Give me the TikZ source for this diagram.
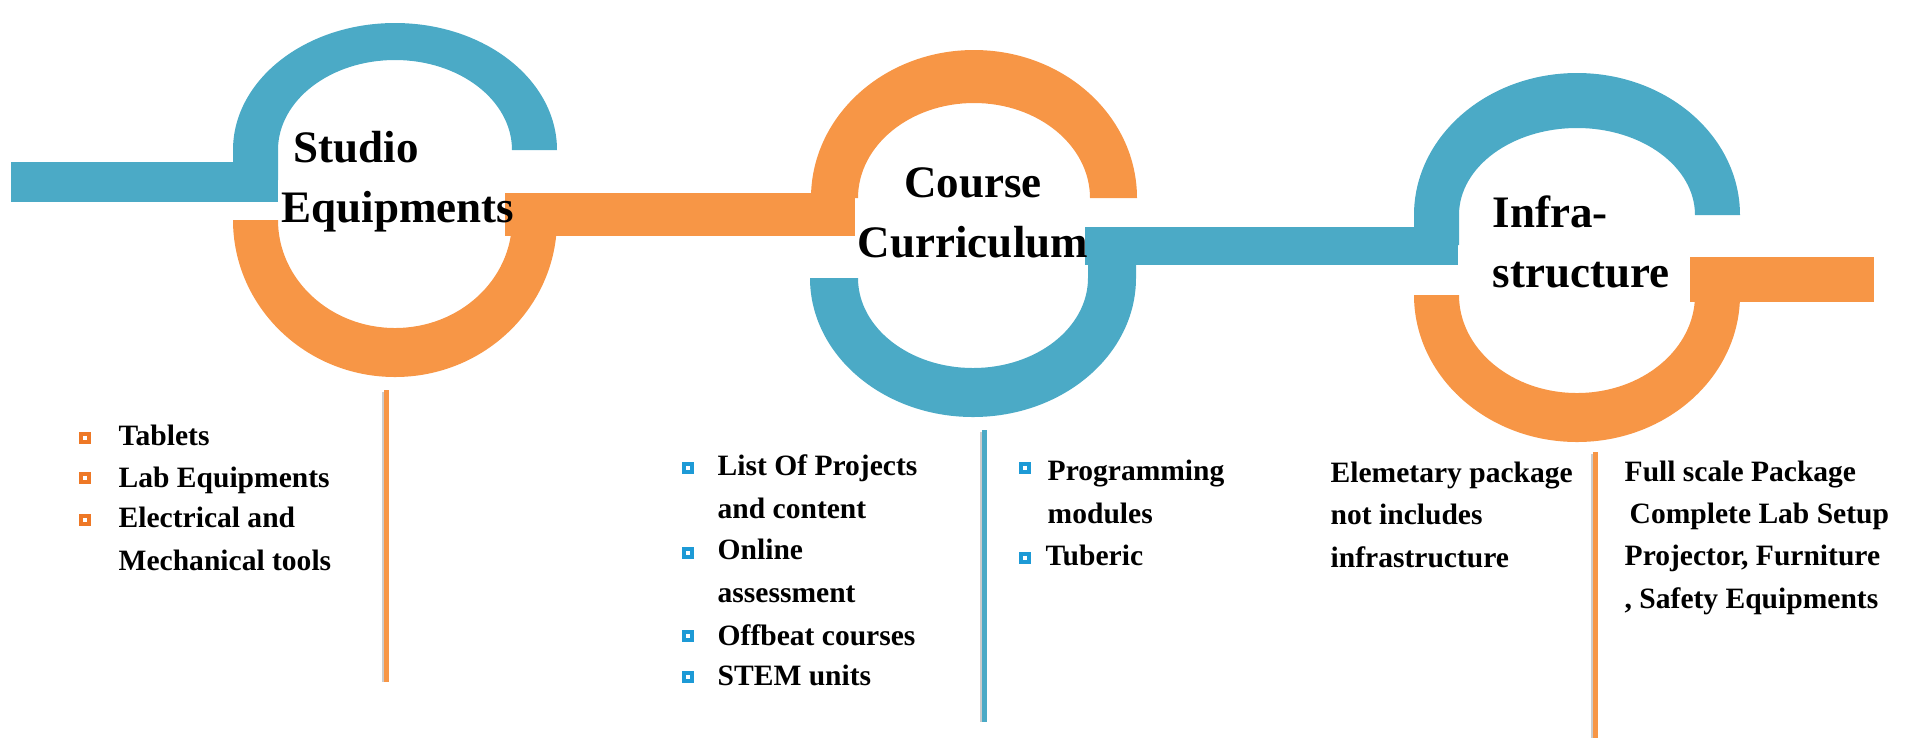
\documentclass[tikz,border=0pt]{standalone}
\usepackage{fontspec}
\setmainfont{Liberation Serif}
\usepackage{xcolor}

\definecolor{ringblue}{HTML}{4BAAC6}
\definecolor{ringorange}{HTML}{F79646}
\definecolor{dotorange}{HTML}{EE7826}
\definecolor{dotblue}{HTML}{1D9AD6}

\tikzset{
  headtext/.style={font=\fontsize{12.8}{16.8}\selectfont\bfseries, inner sep=0pt},
  listtext/.style={font=\fontsize{8.4}{11.95}\selectfont\bfseries, inner sep=0pt, align=left, anchor=base west},
  sqbullet/.style={draw=#1, fill=white, line width=0.04cm, minimum size=0.085cm, inner sep=0pt},
  divider/.style={line width=0.05cm, draw=#1}
}

\begin{document}
\begin{tikzpicture}[x=0.01cm, y=-0.01cm]

    \useasboundingbox (0,0) rectangle (1908,744);

    % Draw the first ring (blue on top, orange below) with the bar coming in from the left
    \fill[ringblue] (11,162) rectangle (278,202);
    \fill[ringblue] (233,180) -- (233,150) arc[start angle=180, end angle=360, x radius=162, y radius=127]
        -- (512,150) arc[start angle=0, end angle=-180, x radius=117, y radius=90] -- (278,180) -- cycle;
    \fill[ringorange] (233,220) arc[start angle=180, end angle=0, x radius=162, y radius=157]
        -- (512,220) arc[start angle=0, end angle=180, x radius=117, y radius=108] -- cycle;

    % Orange bar between the first and the second ring
    \fill[ringorange] (505,193) rectangle (855,236);

    % Draw the second ring (orange on top, blue below)
    \fill[ringorange] (811,198) arc[start angle=180, end angle=360, x radius=163, y radius=148]
        -- (1090,198) arc[start angle=0, end angle=-180, x radius=116, y radius=95] -- cycle;
    \fill[ringblue] (810,278) arc[start angle=180, end angle=0, x radius=163, y radius=139]
        -- (1136,250) -- (1088,250) -- (1088,278) arc[start angle=0, end angle=180, x radius=115, y radius=90] -- cycle;

    % Blue bar between the second and the third ring
    \fill[ringblue] (1085,227) rectangle (1458,265);

    % Draw the third ring (blue on top, orange below) with the bar going out to the right
    \fill[ringblue] (1414,245) -- (1414,215) arc[start angle=180, end angle=360, x radius=163, y radius=142]
        -- (1695,215) arc[start angle=0, end angle=-180, x radius=118, y radius=87] -- (1459,245) -- cycle;
    \fill[ringorange] (1414,295) arc[start angle=180, end angle=0, x radius=163, y radius=147]
        -- (1695,295) arc[start angle=0, end angle=180, x radius=118, y radius=98] -- cycle;
    \fill[ringorange] (1690,257) rectangle (1874,302);

    % Titles inside the rings (placed at the baseline of their last line)
    \node[headtext, align=left, anchor=base west] (studio) at (281,222) {\hspace*{0.12cm}Studio\\Equipments};
    \node[headtext, align=center, anchor=base] (course) at (973,257) {Course\\Curriculum};
    \node[headtext, align=left, anchor=base west] (infra) at (1492,287) {Infra-\\structure};

    % Divider lines below the rings
    \draw[line width=0.03cm, black!20] (383,392) -- (383,682);
    \draw[divider=ringorange] (386,390) -- (386,682);
    \draw[line width=0.03cm, black!20] (981,432) -- (981,722);
    \draw[divider=ringblue] (984,430) -- (984,722);
    \draw[line width=0.03cm, black!20] (1592,454) -- (1592,738);
    \draw[divider=ringorange] (1595,452) -- (1595,738);

    % Studio equipment list
    \node[sqbullet=dotorange] (tabdot) at (85,438) {};
    \node[listtext] (tab) at (118,445) {Tablets};
    \node[sqbullet=dotorange] (labdot) at (85,478) {};
    \node[listtext] (lab) at (118,487) {Lab Equipments};
    \node[sqbullet=dotorange] (tooldot) at (85,520) {};
    \node[listtext] (tool) at (118,570) {Electrical and\\Mechanical tools};

    % Course curriculum list, first column
    \node[sqbullet=dotblue] (projdot) at (688,468) {};
    \node[listtext] (proj) at (717,518) {List Of Projects\\and content};
    \node[sqbullet=dotblue] (onldot) at (688,553) {};
    \node[listtext] (onl) at (717,602) {Online\\assessment};
    \node[sqbullet=dotblue] (offdot) at (688,636) {};
    \node[listtext] (off) at (717,645) {Offbeat courses};
    \node[sqbullet=dotblue] (stemdot) at (688,677) {};
    \node[listtext] (stem) at (717,685) {STEM units};

    % Course curriculum list, second column
    \node[sqbullet=dotblue] (progdot) at (1025,468) {};
    \node[listtext] (prog) at (1047,523) {Programming\\modules};
    \node[sqbullet=dotblue] (tubdot) at (1025,558) {};
    \node[listtext] (tub) at (1045,565) {Tuberic};

    % Infrastructure packages
    \node[listtext] (elem) at (1330,567) {Elemetary package\\not includes\\infrastructure};
    \node[listtext] (full) at (1624,608) {Full scale Package\\\hspace*{0.05cm}Complete Lab Setup\\Projector, Furniture\\, Safety Equipments};

\end{tikzpicture}
\end{document}
